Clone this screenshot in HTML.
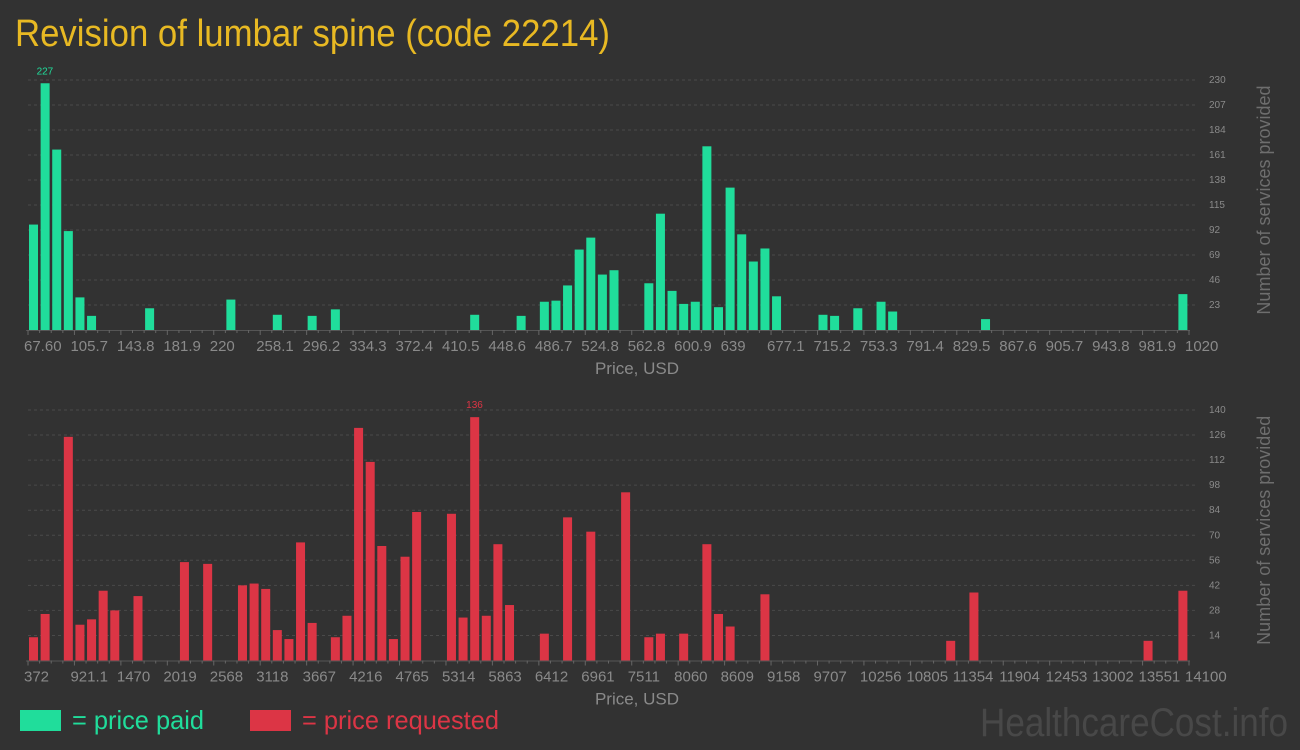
<!DOCTYPE html>
<html><head><meta charset="utf-8"><style>
html,body{margin:0;padding:0;background:#323232;}
svg{display:block;font-family:"Liberation Sans Narrow","Liberation Sans",sans-serif;}
</style></head><body>
<svg id="c" width="1300" height="750" viewBox="0 0 1300 750">
<rect width="1300" height="750" fill="#323232"/>
<text x="15" y="46" fill="#e8b923" font-size="38" textLength="595" lengthAdjust="spacingAndGlyphs">Revision of lumbar spine (code 22214)</text>
<g id="top"></g>
<g id="bot"></g>
<rect x="20" y="710" width="41" height="21" fill="#20dd9b"/>
<text x="72" y="729" fill="#20dd9b" font-size="26" textLength="132" lengthAdjust="spacingAndGlyphs">= price paid</text>
<rect x="250" y="710" width="41" height="21" fill="#dc3545"/>
<text x="302" y="729" fill="#dc3545" font-size="26" textLength="197" lengthAdjust="spacingAndGlyphs">= price requested</text>
<text x="980" y="736" fill="#484848" font-size="40" textLength="308" lengthAdjust="spacingAndGlyphs">HealthcareCost.info</text>
</svg>
<script>
// Top chart data (price paid): bin index and count
const paidBins = [0,1,2,3,4,5,10,17,21,24,26,38,42,44,45,46,47,48,49,50,53,54,55,56,57,58,59,60,61,62,63,64,68,69,71,73,74,82,99];
const paidCounts = [97,227,166,91,30,13,20,28,14,13,19,14,13,26,27,41,74,85,51,55,43,107,36,24,26,169,21,131,88,63,75,31,14,13,20,26,17,10,33];
const paidXTicks = ["67.60","105.7","143.8","181.9","220","258.1","296.2","334.3","372.4","410.5","448.6","486.7","524.8","562.8","600.9","639","677.1","715.2","753.3","791.4","829.5","867.6","905.7","943.8","981.9","1020"];
const paidYTicks = [23,46,69,92,115,138,161,184,207,230];
// Bottom chart data (price requested)
const reqBins = [0,1,3,4,5,6,7,9,13,15,18,19,20,21,22,23,24,26,27,28,29,30,31,32,33,36,37,38,39,40,41,44,46,48,51,53,54,56,58,59,60,63,79,81,96,99];
const reqCounts = [13,26,125,20,23,39,28,36,55,54,42,43,40,17,12,66,21,13,25,130,111,64,12,58,83,82,24,136,25,65,31,15,80,72,94,13,15,15,65,26,19,37,11,38,11,39];
const reqXTicks = ["372","921.1","1470","2019","2568","3118","3667","4216","4765","5314","5863","6412","6961","7511","8060","8609","9158","9707","10256","10805","11354","11904","12453","13002","13551","14100"];
const reqYTicks = [14,28,42,56,70,84,98,112,126,140];

const NS="http://www.w3.org/2000/svg";
function mk(parent,tag,attrs){const e=document.createElementNS(NS,tag);for(const k in attrs)e.setAttribute(k,attrs[k]);parent.appendChild(e);return e;}

function drawChart(g,bins,counts,xTicks,yTicks,color,base,topY,prefix){
  const x0=28,x1=1189,nb=100,slot=(x1-x0)/nb;
  const ymax=yTicks[yTicks.length-1];
  const yS=v=>base-(v/ymax)*(base-topY);
  const xS=i=>x0+i*slot;
  yTicks.forEach(t=>{
    const l=mk(g,'line',{x1:x0,x2:1195,y1:yS(t),y2:yS(t),stroke:'#4a4a4a','stroke-dasharray':'3,3','stroke-width':1});
    
    
    const tx=mk(g,'text',{x:1209,y:yS(t)+3,fill:'#8a8a8a','font-size':10});
    tx.textContent=t;
    
    
  });
  let maxI=0;
  counts.forEach((c,k)=>{if(c>counts[maxI])maxI=k;});
  bins.forEach((b,k)=>{
    const r=mk(g,'rect',{x:xS(b)+1,width:slot-2.6,y:yS(counts[k]),height:base-yS(counts[k]),fill:color});
    
    
    if(k===maxI){
      const t=mk(g,'text',{x:xS(b)+slot/2-0.5,y:yS(counts[k])-9,fill:color,'font-size':10,'text-anchor':'middle'});
      t.textContent=counts[k];
      
      
    }
  });
  const ax=mk(g,'line',{x1:x0-2,x2:x1+1,y1:base+0.5,y2:base+0.5,stroke:'#555','stroke-width':1});
  
  
  const step=(x1-x0)/(xTicks.length-1);
  for(let i=0;i<(xTicks.length-1)*4+1;i++){
    const xx=x0+i*step/4;
    const tk=mk(g,'line',{x1:xx,x2:xx,y1:base,y2:base+(i%4===0?5:3),stroke:'#666'});
    
    
  }
  xTicks.forEach((t,i)=>{
    const tx=mk(g,'text',{x:x0+i*step-4,y:base+21,fill:'#8a8a8a','font-size':15});
    tx.textContent=t;
    
    
  });
  const xt=mk(g,'text',{x:637,y:base+44,fill:'#8a8a8a','font-size':17,'text-anchor':'middle'});
  xt.textContent='Price, USD';
  
  
  const cy=(base+topY)/2-5;
  const yt=mk(g,'text',{x:1270,y:cy,fill:'#6e6e6e','font-size':18,'text-anchor':'middle',transform:'rotate(-90 1270 '+cy+')'});
  yt.textContent='Number of services provided';
  
  
}
drawChart(document.getElementById('top'),paidBins,paidCounts,paidXTicks,paidYTicks,'#20dd9b',330,80,'paid');
drawChart(document.getElementById('bot'),reqBins,reqCounts,reqXTicks,reqYTicks,'#dc3545',660.5,410,'requested');
</script>
</body></html>
